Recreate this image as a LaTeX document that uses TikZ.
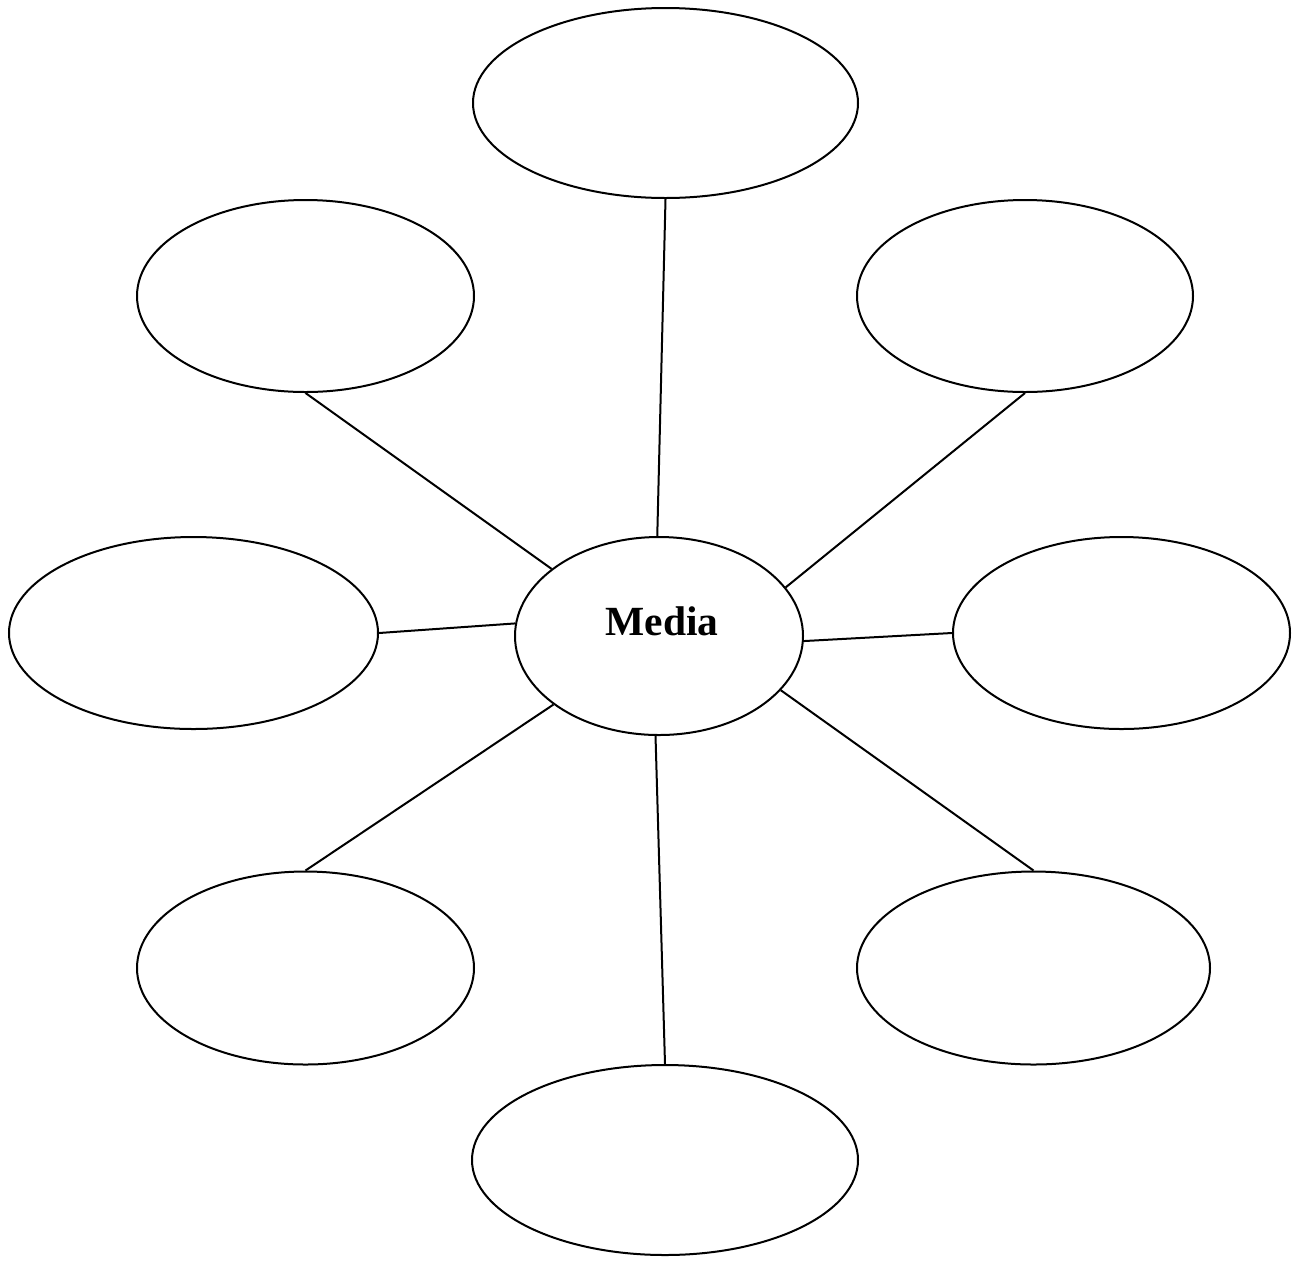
\documentclass[tikz,border=0pt]{standalone}
\usepackage{fontspec}
\setmainfont{Liberation Serif}
\usetikzlibrary{shapes.geometric}
\begin{document}
\begin{tikzpicture}[x=1pt,y=-1pt,
  bubble/.style={ellipse,draw,line width=2pt,inner sep=0pt,minimum width=#1},
  spoke/.style={line width=2pt}]
\useasboundingbox (0,0) rectangle (1298,1262);
% central topic
\node[bubble=288pt,minimum height=198pt] (c) at (659,636) {};
\node[font=\bfseries\fontsize{41.5}{48}\selectfont,inner sep=0pt] (lbl) at (662,621) {Media};
% surrounding bubbles
\node[bubble=385pt,minimum height=190pt] (t)  at (665.5,103) {};
\node[bubble=337pt,minimum height=192pt] (ul) at (305.5,296) {};
\node[bubble=336pt,minimum height=192pt] (ur) at (1025,296) {};
\node[bubble=369pt,minimum height=192pt] (l)  at (193.5,633) {};
\node[bubble=337pt,minimum height=192pt] (r)  at (1121.5,633) {};
\node[bubble=337pt,minimum height=193pt] (ll) at (305.5,968) {};
\node[bubble=353pt,minimum height=193pt] (lr) at (1033.5,968) {};
\node[bubble=386pt,minimum height=190pt] (b)  at (665,1160) {};
% spokes
\draw[spoke] (t.south)  -- (c.91.7);
\draw[spoke] (ul.south) -- (c.148.4);
\draw[spoke] (ur.south) -- (c.21.9);
\draw[spoke] (l.east)   -- (c.175.2);
\draw[spoke] (r.west)   -- (c.-2);
\draw[spoke] (ll.north) -- (c.213.4);
\draw[spoke] (lr.north) -- (c.-24.4);
\draw[spoke] (b.north)  -- (c.268.3);
\end{tikzpicture}
\end{document}
